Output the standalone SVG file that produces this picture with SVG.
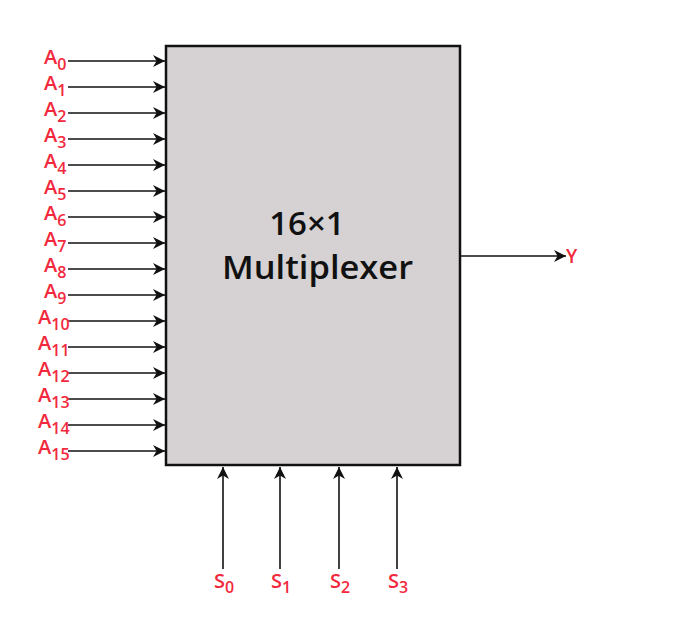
<svg xmlns="http://www.w3.org/2000/svg" width="684" height="644" viewBox="0 0 684 644">
<style>
.lbl{font-family:"Open Sans","Noto Sans",sans-serif;font-size:20px;font-weight:600;fill:#f2293d}
.sub{font-size:16px}
.w{stroke:#111;stroke-width:1.6;fill:none}
.title{font-family:"Open Sans","Noto Sans",sans-serif;font-size:33px;font-weight:600;fill:#111}
</style>
<defs>
<marker id="ah" viewBox="0 0 10 10" refX="10" refY="5" markerWidth="12" markerHeight="12" markerUnits="userSpaceOnUse" orient="auto">
<path d="M0,0 L10,5 L0,10 L3,5 Z" fill="#111"/>
</marker>
</defs>
<rect width="684" height="644" fill="#fff"/>
<g id="mux">
<rect x="166" y="46" width="294" height="419" fill="#d6d2d3" stroke="#111" stroke-width="2.5"/>
<text class="title" x="307" y="235" text-anchor="middle">16×1</text>
<text class="title" x="222" y="279" textLength="191" lengthAdjust="spacingAndGlyphs">Multiplexer</text>
</g>
<g id="connectors">
<line class="w" x1="68" y1="61" x2="165" y2="61" marker-end="url(#ah)"/>
<line class="w" x1="68" y1="87" x2="165" y2="87" marker-end="url(#ah)"/>
<line class="w" x1="68" y1="113" x2="165" y2="113" marker-end="url(#ah)"/>
<line class="w" x1="68" y1="139" x2="165" y2="139" marker-end="url(#ah)"/>
<line class="w" x1="68" y1="165" x2="165" y2="165" marker-end="url(#ah)"/>
<line class="w" x1="68" y1="191" x2="165" y2="191" marker-end="url(#ah)"/>
<line class="w" x1="68" y1="217" x2="165" y2="217" marker-end="url(#ah)"/>
<line class="w" x1="68" y1="243" x2="165" y2="243" marker-end="url(#ah)"/>
<line class="w" x1="68" y1="269" x2="165" y2="269" marker-end="url(#ah)"/>
<line class="w" x1="68" y1="295" x2="165" y2="295" marker-end="url(#ah)"/>
<line class="w" x1="68" y1="321" x2="165" y2="321" marker-end="url(#ah)"/>
<line class="w" x1="68" y1="347" x2="165" y2="347" marker-end="url(#ah)"/>
<line class="w" x1="68" y1="373" x2="165" y2="373" marker-end="url(#ah)"/>
<line class="w" x1="68" y1="399" x2="165" y2="399" marker-end="url(#ah)"/>
<line class="w" x1="68" y1="425" x2="165" y2="425" marker-end="url(#ah)"/>
<line class="w" x1="68" y1="451" x2="165" y2="451" marker-end="url(#ah)"/>
<line class="w" x1="461" y1="256" x2="566" y2="256" marker-end="url(#ah)"/>
<line class="w" x1="223" y1="569" x2="223" y2="467" marker-end="url(#ah)"/>
<line class="w" x1="280" y1="569" x2="280" y2="467" marker-end="url(#ah)"/>
<line class="w" x1="339" y1="569" x2="339" y2="467" marker-end="url(#ah)"/>
<line class="w" x1="397" y1="569" x2="397" y2="467" marker-end="url(#ah)"/>
</g>
<g id="labels">
<text class="lbl" x="44" y="64">A<tspan class="sub" dy="6">0</tspan></text>
<text class="lbl" x="44" y="90">A<tspan class="sub" dy="6">1</tspan></text>
<text class="lbl" x="44" y="116">A<tspan class="sub" dy="6">2</tspan></text>
<text class="lbl" x="44" y="142">A<tspan class="sub" dy="6">3</tspan></text>
<text class="lbl" x="44" y="168">A<tspan class="sub" dy="6">4</tspan></text>
<text class="lbl" x="44" y="194">A<tspan class="sub" dy="6">5</tspan></text>
<text class="lbl" x="44" y="220">A<tspan class="sub" dy="6">6</tspan></text>
<text class="lbl" x="44" y="246">A<tspan class="sub" dy="6">7</tspan></text>
<text class="lbl" x="44" y="272">A<tspan class="sub" dy="6">8</tspan></text>
<text class="lbl" x="44" y="298">A<tspan class="sub" dy="6">9</tspan></text>
<text class="lbl" x="38" y="324">A<tspan class="sub" dy="6">10</tspan></text>
<text class="lbl" x="38" y="350">A<tspan class="sub" dy="6">11</tspan></text>
<text class="lbl" x="38" y="376">A<tspan class="sub" dy="6">12</tspan></text>
<text class="lbl" x="38" y="402">A<tspan class="sub" dy="6">13</tspan></text>
<text class="lbl" x="38" y="428">A<tspan class="sub" dy="6">14</tspan></text>
<text class="lbl" x="38" y="454">A<tspan class="sub" dy="6">15</tspan></text>
<text class="lbl" x="566" y="263" style="font-size:19px">Y</text>
<text class="lbl" x="214" y="588">S<tspan class="sub" dy="5">0</tspan></text>
<text class="lbl" x="271" y="588">S<tspan class="sub" dy="5">1</tspan></text>
<text class="lbl" x="330" y="588">S<tspan class="sub" dy="5">2</tspan></text>
<text class="lbl" x="388" y="588">S<tspan class="sub" dy="5">3</tspan></text>
</g>
</svg>
